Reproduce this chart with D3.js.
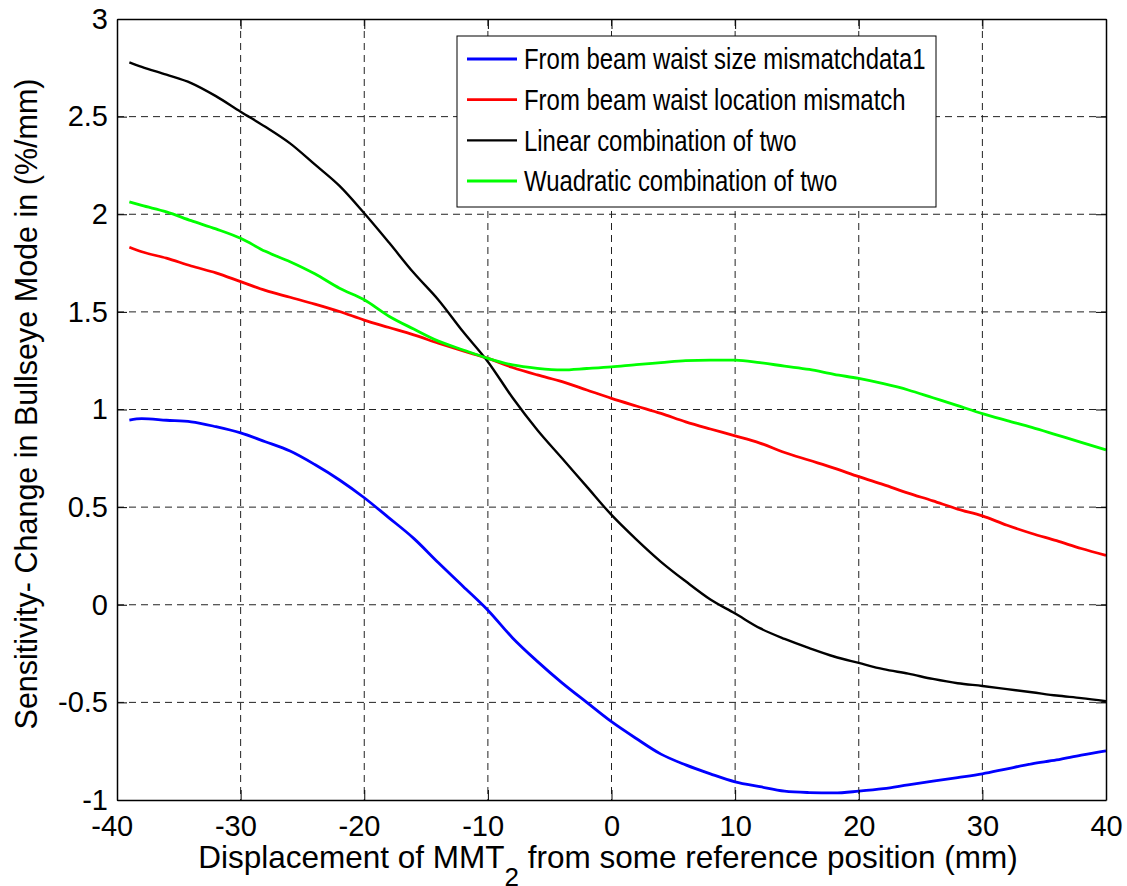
<!DOCTYPE html>
<html>
<head>
<meta charset="utf-8">
<script src="https://cdn.jsdelivr.net/npm/d3@7"></script>
<style>
  body { margin: 0; background: #fff; }
  svg { display: block; font-family: "Liberation Sans", Arial, Helvetica, sans-serif; }
</style>
</head>
<body>
<svg id="chart" width="1127" height="886"></svg>
<script>
// Displacement positions (mm)
const xs = [-39, -38, -36, -34, -32, -30, -28, -26, -24, -22, -20, -18, -16, -14, -12, -10, -8, -6, -4, -2,
            0, 2, 4, 6, 8, 10, 12, 14, 16, 18, 20, 22, 24, 26, 28, 30, 32, 34, 36, 38, 40];

// Sensitivity values (%/mm)
const waistSize = [0.946, 0.953, 0.945, 0.937, 0.912, 0.880, 0.835, 0.787, 0.718, 0.639, 0.548, 0.445, 0.340, 0.215, 0.094, -0.028,
                   -0.170, -0.290, -0.400, -0.500, -0.599, -0.685, -0.765, -0.820, -0.866, -0.907, -0.932, -0.955, -0.962, -0.964,
                   -0.955, -0.942, -0.922, -0.903, -0.885, -0.866, -0.840, -0.815, -0.795, -0.770, -0.748];
const waistLocation = [1.831, 1.808, 1.775, 1.735, 1.700, 1.655, 1.610, 1.575, 1.540, 1.502, 1.458, 1.420, 1.382, 1.340, 1.300, 1.262,
                       1.215, 1.177, 1.143, 1.100, 1.057, 1.018, 0.980, 0.937, 0.900, 0.865, 0.828, 0.780, 0.740, 0.700,
                       0.656, 0.615, 0.572, 0.532, 0.490, 0.455, 0.407, 0.365, 0.328, 0.288, 0.253];
const linearComb = [2.778, 2.755, 2.715, 2.672, 2.605, 2.525, 2.448, 2.363, 2.255, 2.145, 2.005, 1.855, 1.700, 1.561, 1.398, 1.245,
                    1.060, 0.895, 0.750, 0.605, 0.460, 0.335, 0.220, 0.120, 0.027, -0.045, -0.120, -0.175, -0.222, -0.265,
                    -0.298, -0.330, -0.353, -0.380, -0.402, -0.416, -0.432, -0.448, -0.465, -0.478, -0.494];
const quadComb = [2.063, 2.045, 2.012, 1.967, 1.925, 1.877, 1.810, 1.757, 1.695, 1.621, 1.562, 1.478, 1.412, 1.350, 1.305, 1.262,
                  1.228, 1.211, 1.203, 1.210, 1.218, 1.230, 1.240, 1.250, 1.253, 1.253, 1.240, 1.222, 1.205, 1.180,
                  1.159, 1.132, 1.100, 1.060, 1.020, 0.979, 0.943, 0.908, 0.870, 0.832, 0.793];

const seriesNames = ["From beam waist size mismatchdata1", "From beam waist location mismatch",
                     "Linear combination of two", "Wuadratic combination of two"];
const seriesColors = ["#0000ff", "#ff0000", "#000000", "#00ff00"];
const seriesWidths = [2.8, 2.8, 2.4, 2.8];
const seriesValues = [waistSize, waistLocation, linearComb, quadComb];

const xTicks = [-40, -30, -20, -10, 0, 10, 20, 30, 40];
const yTicks = [-1, -0.5, 0, 0.5, 1, 1.5, 2, 2.5, 3];

// layout
const margin = {left: 117, top: 19, right: 21, bottom: 86};
const svg = d3.select("#chart");
const width = +svg.attr("width") - margin.left - margin.right;
const height = +svg.attr("height") - margin.top - margin.bottom;

const x = d3.scaleLinear().domain([-40, 40]).range([0, width]);
const y = d3.scaleLinear().domain([-1, 3]).range([height, 0]);

const g = svg.append("g").attr("transform", `translate(${margin.left},${margin.top})`);

// grid
g.append("g").selectAll("line")
  .data(xTicks.slice(1, -1))
  .join("line")
  .attr("x1", d => x(d)).attr("x2", d => x(d))
  .attr("y1", 0).attr("y2", height)
  .attr("stroke", "#222").attr("stroke-width", 1)
  .attr("stroke-dasharray", "7,5");
g.append("g").selectAll("line")
  .data(yTicks.slice(1, -1))
  .join("line")
  .attr("y1", d => y(d)).attr("y2", d => y(d))
  .attr("x1", 0).attr("x2", width)
  .attr("stroke", "#222").attr("stroke-width", 1)
  .attr("stroke-dasharray", "7,5");

// series lines
const line = d3.line()
  .x((d, i) => x(xs[i]))
  .y(d => y(d))
  .curve(d3.curveMonotoneX);

seriesValues.forEach((vals, i) => {
  g.append("path")
    .datum(vals)
    .attr("fill", "none")
    .attr("stroke", seriesColors[i])
    .attr("stroke-width", seriesWidths[i])
    .attr("stroke-linejoin", "round")
    .attr("d", line);
});

// axes, inward ticks on every side
const fontSize = 29;
const plain = d => String(d);
const xAxis = g.append("g")
  .attr("transform", `translate(0,${height})`)
  .call(d3.axisBottom(x).tickValues(xTicks).tickSize(-10).tickSizeOuter(0).tickPadding(15).tickFormat(plain));
xAxis.selectAll("text").attr("dx", d => d < 0 ? "-0.18em" : 0);

g.append("g")
  .call(d3.axisLeft(y).tickValues(yTicks).tickSize(-10).tickSizeOuter(0).tickPadding(9).tickFormat(plain));

g.append("g")
  .call(d3.axisTop(x).tickValues(xTicks).tickSize(-10).tickSizeOuter(0).tickFormat(""));
g.append("g")
  .attr("transform", `translate(${width},0)`)
  .call(d3.axisRight(y).tickValues(yTicks).tickSize(-10).tickSizeOuter(0).tickFormat(""));

g.selectAll(".domain").attr("stroke", "#000").attr("stroke-width", 1.5);
g.selectAll(".tick line").attr("stroke", "#000").attr("stroke-width", 1);
g.selectAll(".tick text")
  .attr("fill", "#000")
  .style("font-size", fontSize + "px")
  .style("font-family", "'Liberation Sans', Arial, Helvetica, sans-serif");

// axis labels
const xLabel = svg.append("text")
  .attr("x", 608)
  .attr("y", 868)
  .attr("text-anchor", "middle")
  .style("font-size", "31.5px")
  .attr("fill", "#000");
xLabel.append("tspan").text("Displacement of MMT");
xLabel.append("tspan").attr("dy", 18).style("font-size", "26px").text("2");
xLabel.append("tspan").attr("dy", -18).text(" from some reference position (mm)");

svg.append("text")
  .attr("transform", "translate(37,404) rotate(-90)")
  .attr("text-anchor", "middle")
  .style("font-size", "30.5px")
  .attr("fill", "#000")
  .text("Sensitivity- Change in Bullseye Mode in (%/mm)");

// legend
const legend = svg.append("g");
legend.append("rect")
  .attr("x", 457).attr("y", 36)
  .attr("width", 479).attr("height", 171)
  .attr("fill", "#fff").attr("stroke", "#000").attr("stroke-width", 1);

const rowY = d3.scalePoint().domain(d3.range(seriesNames.length)).range([59, 181]);
const items = legend.selectAll("g.item")
  .data(seriesNames)
  .join("g")
  .attr("class", "item")
  .attr("transform", (d, i) => `translate(0,${rowY(i)})`);
items.append("line")
  .attr("x1", 467).attr("x2", 517)
  .attr("stroke", (d, i) => seriesColors[i])
  .attr("stroke-width", (d, i) => seriesWidths[i]);
items.append("text")
  .attr("x", 524)
  .attr("dy", "0.36em")
  .style("font-size", "29px")
  .attr("fill", "#000")
  .text(d => d)
  .each(function() {
    // the legend face is narrower than Liberation Sans: condense it a little
    const w = this.getComputedTextLength();
    d3.select(this).attr("textLength", w * 0.825).attr("lengthAdjust", "spacingAndGlyphs");
  });
</script>
</body>
</html>
